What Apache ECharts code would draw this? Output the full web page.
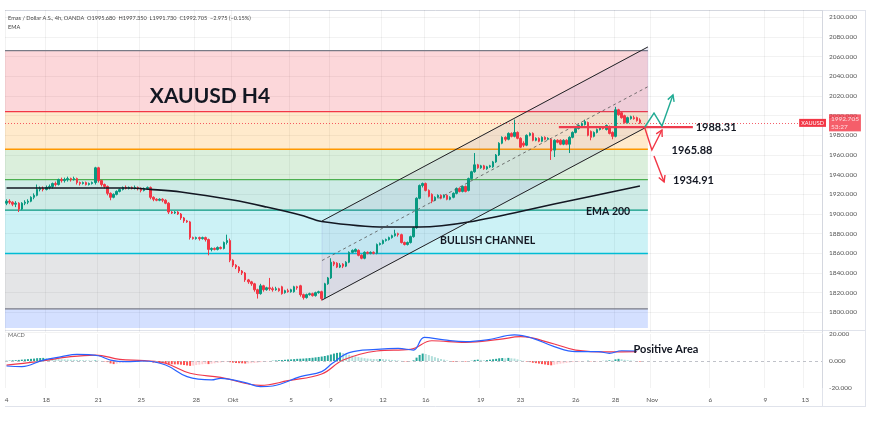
<!DOCTYPE html>
<html><head><meta charset="utf-8">
<script src="https://cdn.jsdelivr.net/npm/echarts@6/dist/echarts.min.js"></script>
<style>html,body{margin:0;padding:0;background:#fff;}#c{width:870px;height:422px;}</style>
</head><body><div id="c"></div>
<script>
// ---------- DATA ----------
const SLOTS = 267; // 4h bar slots shown on the time axis (incl. future space)
const xTickIdx  = [0, 13, 30, 44, 62, 74, 93, 106, 123, 137, 155, 168, 186, 199, 211, 230, 248, 261];
const xTickText = ['4','18','21','25','28','Okt','5','9','12','16','19','23','26','28','Nov','6','9','13'];

// [open, close, low, high]
const ohlc = [
[1911,1913,1909,1915],[1913,1912,1910,1915],[1912,1910,1908,1913],[1910,1911,1907,1913],[1911,1905,1902,1912],
[1905,1911,1904,1912],[1911,1912,1909,1914],[1912,1913,1910,1915],[1913,1917,1912,1918],[1917,1919,1915,1921],
[1919,1925,1918,1930],[1925,1926,1923,1928],[1926,1925,1923,1928],[1925,1927,1924,1929],[1927,1928,1925,1930],
[1928,1931,1926,1932],[1931,1930,1928,1933],[1930,1935,1929,1936],[1935,1934,1932,1937],[1934,1935,1932,1937],
[1935,1936,1933,1938],[1936,1935,1933,1937],[1935,1936,1934,1938],[1936,1932,1930,1937],[1932,1931,1929,1933],
[1931,1932,1930,1933],[1932,1930,1929,1933],[1930,1931,1929,1932],[1931,1932,1930,1933],[1932,1947,1930,1948],
[1947,1934,1932,1948],[1934,1930,1928,1935],[1930,1928,1926,1931],[1928,1921,1919,1929],[1921,1917,1914,1922],
[1917,1920,1916,1921],[1920,1923,1919,1924],[1923,1925,1922,1926],[1925,1927,1924,1928],[1927,1926,1925,1929],
[1926,1927,1925,1928],[1927,1926,1925,1928],[1926,1927,1925,1929],[1927,1926,1924,1928],[1926,1924,1922,1927],
[1924,1926,1923,1927],[1926,1927,1925,1928],[1927,1917,1915,1928],[1917,1915,1913,1918],[1915,1914,1913,1916],
[1914,1915,1913,1916],[1915,1914,1912,1916],[1914,1911,1910,1915],[1911,1902,1900,1912],[1902,1901,1900,1903],
[1901,1902,1900,1903],[1902,1900,1899,1903],[1900,1896,1894,1901],[1896,1893,1891,1897],[1893,1892,1891,1894],
[1892,1876,1874,1893],[1876,1875,1874,1877],[1875,1876,1874,1877],[1876,1875,1873,1877],[1875,1876,1874,1877],
[1876,1874,1872,1877],[1874,1864,1858,1875],[1864,1865,1862,1866],[1865,1864,1863,1866],[1864,1866,1863,1867],
[1866,1865,1864,1867],[1865,1871,1864,1872],[1871,1873,1869,1879],[1873,1853,1851,1875],[1853,1848,1846,1854],
[1848,1846,1844,1849],[1846,1842,1840,1847],[1842,1840,1838,1843],[1840,1833,1831,1841],[1833,1831,1829,1834],
[1831,1829,1827,1832],[1829,1823,1821,1830],[1823,1819,1814,1824],[1819,1827,1818,1829],[1827,1823,1821,1828],
[1823,1825,1822,1826],[1825,1824,1822,1835],[1824,1823,1821,1826],[1823,1824,1822,1826],[1824,1822,1821,1825],
[1826,1819,1818,1827],[1820,1822,1819,1823],[1822,1821,1820,1824],[1821,1823,1820,1824],[1821,1826,1820,1827],
[1826,1825,1823,1827],[1827,1818,1816,1828],[1818,1815,1813,1819],[1815,1818,1814,1819],[1818,1819,1817,1820],
[1819,1817,1816,1820],[1817,1820,1816,1821],[1820,1821,1819,1822],[1821,1814,1812,1822],[1815,1829,1814,1830],
[1829,1835,1828,1836],[1835,1851,1834,1855],[1851,1849,1847,1852],[1850,1846,1845,1851],[1846,1848,1845,1850],
[1849,1847,1845,1850],[1847,1851,1846,1852],[1851,1861,1850,1862],[1861,1863,1860,1864],[1862,1864,1861,1865],
[1863,1858,1857,1864],[1858,1855,1854,1859],[1855,1861,1854,1862],[1861,1860,1859,1862],[1860,1861,1859,1862],
[1861,1860,1859,1862],[1860,1869,1859,1870],[1869,1870,1868,1871],[1870,1873,1869,1874],[1873,1874,1872,1875],
[1874,1876,1873,1877],[1876,1878,1875,1879],[1878,1880,1877,1884],[1880,1879,1877,1881],[1879,1871,1870,1880],
[1871,1869,1868,1872],[1869,1871,1868,1872],[1871,1877,1870,1878],[1877,1886,1876,1887],[1886,1916,1885,1917],
[1916,1929,1915,1930],[1929,1931,1927,1932],[1931,1924,1923,1932],[1924,1918,1917,1925],[1920,1913,1911,1921],
[1914,1917,1913,1918],[1917,1919,1916,1920],[1919,1916,1915,1920],[1917,1919,1916,1920],[1919,1915,1914,1920],
[1915,1917,1914,1918],[1917,1921,1916,1922],[1921,1926,1920,1927],[1926,1923,1922,1927],[1923,1928,1922,1929],
[1928,1923,1922,1929],[1924,1936,1923,1937],[1936,1943,1935,1944],[1943,1950,1942,1962],[1950,1947,1946,1951],
[1947,1949,1946,1950],[1949,1946,1945,1950],[1946,1948,1945,1949],[1948,1949,1947,1950],[1948,1953,1947,1954],
[1953,1960,1952,1961],[1960,1972,1959,1973],[1972,1978,1971,1979],[1978,1976,1974,1979],[1976,1982,1975,1983],
[1982,1979,1978,1983],[1979,1983,1978,1996],[1983,1977,1976,1984],[1977,1968,1967,1978],[1972,1970,1968,1974],
[1970,1980,1969,1981],[1980,1982,1979,1983],[1982,1975,1974,1983],[1975,1977,1974,1978],[1977,1974,1973,1978],
[1974,1978,1973,1979],[1978,1976,1975,1979],[1976,1977,1975,1978],[1976,1964,1955,1977],[1965,1975,1958,1976],
[1975,1973,1972,1976],[1975,1971,1970,1976],[1971,1975,1970,1976],[1975,1971,1970,1976],[1971,1978,1962,1979],
[1978,1983,1977,1984],[1983,1987,1982,1988],[1987,1990,1986,1991],[1990,1992,1989,1993],[1991,1994,1990,1996],
[1993,1980,1979,1994],[1984,1978,1975,1985],[1979,1983,1978,1984],[1983,1986,1982,1987],[1986,1988,1985,1989],
[1988,1987,1986,1989],[1986,1990,1985,1991],[1989,1982,1981,1990],[1983,1979,1976,1984],[1979,2006,1978,2009],
[2006,2001,2000,2007],[2003,1998,1997,2004],[2000,1993,1992,2001],[1993,1998,1992,1999],[1997,1999,1996,2000],
[1998,1997,1996,2000],[1998,1995,1994,1999],[1995.68,1992.705,1991.73,1997.35]
];
const lastPrice = 1992.705;
const lastPriceText = '1992.705';
const countdownText = '53:27';

// EMA 200 read at bar index
const emaPts = [[0,1926.4],[40,1926.4],[47,1925.1],[57,1922.4],[74,1914.2],[85,1907.1],[96,1899.0],
                [103,1892.4],[124,1886.8],[135,1886.8],[151,1891.9],[179,1910.2],[207,1928.5]];

// Fibonacci retracement levels (top -> bottom) and band bottom
const fibLevels = [2066.1, 2004.16, 1965.88, 1934.91, 1903.94, 1859.84, 1803.61];
const fibBottom = 1784;
const fibStartIdx = -0.5, fibEndIdx = 209.6;
const fibLineColors = ['#787b86','#f23645','#ff9800','#4caf50','#089981','#00bcd4','#787b86'];
const fibFillColors = ['rgba(242,54,69,0.2)','rgba(255,152,0,0.2)','rgba(76,175,80,0.2)','rgba(8,153,129,0.2)',
                       'rgba(0,188,212,0.2)','rgba(120,123,134,0.2)','rgba(41,98,255,0.2)'];

// Parallel channel (bar index, price)
const channelUpper = [[103.1,1892.9],[209.6,2069.9]];
const channelLower = [[103.1,1812.5],[209.6,1989.2]];
const channelMid   = [[103.1,1852.7],[209.6,2029.5]];

// key level & scenario arrows
const keyLevel = 1988.31;
const keyLevelSpan = [180.5, 224.3];
const greenPath = [[208.6,1988.5],[211.6,2002.7],[214.2,1989.5],[217.8,2021.1]];
const redPath   = [[208.6,1987.5],[210.9,1965.1],[214.2,1985.5]];
const redDown   = [[211.6,1959.0],[214.9,1932.6]];

// annotation texts (bar index, price)
const annoText  = ['XAUUSD H4','BULLISH CHANNEL','EMA 200','1988.31','1965.88','1934.91'];
const annoIdx   = [66.5, 157.2, 196.6, 231.9, 224.0, 224.5];
const annoPrice = [2020.0, 1872.5, 1902.0, 1987.8, 1965.1, 1933.8];
const annoSize  = [21, 10.5, 10.5, 11, 11, 11];

// MACD pane
const macdHist = [
0.2,0.3,0.5,0.6,0.8,1.0,1.2,1.4,1.6,1.8,
2.1,2.2,2.3,2.2,2.0,1.8,1.6,1.4,1.3,1.2,
1.1,1.0,0.9,0.8,0.7,0.6,0.5,0.4,0.3,0.4,
0.3,0.1,-0.3,-0.8,-1.8,-2.3,-2.0,-1.6,-1.2,-0.8,
-0.5,-0.3,-0.1,0.1,0.2,0.1,-0.2,-0.6,-1.2,-1.5,
-1.6,-1.7,-1.8,-2.2,-2.4,-2.5,-2.5,-2.7,-3.0,-3.3,
-3.6,-3.4,-3.0,-2.7,-2.4,-2.2,-2.3,-2.0,-1.7,-1.4,
-1.1,-0.8,-0.5,-0.9,-1.2,-1.5,-1.6,-1.7,-1.9,-1.8,
-1.6,-1.5,-1.3,-0.9,-0.6,-0.4,-0.2,0.2,0.4,0.6,
0.7,0.9,1.1,1.2,1.4,1.6,1.7,1.8,2.0,2.2,
2.4,2.7,3.0,3.3,3.7,4.2,4.8,5.5,6.0,6.3,5.8,5.2,4.6,4.0,3.4,2.9,2.5,2.1,1.8,1.6,1.5,1.4,
1.5,1.4,1.2,1.0,0.8,0.6,0.4,
0.1,-0.3,-0.5,-0.3,0.5,
2.5,4.5,5.5,5.2,
4.4,3.6,2.8,2.1,1.5,1.0,
0.4,-0.2,-0.5,-0.6,-0.5,-0.3,-0.4,-0.2,0.2,
0.8,1.0,0.8,0.6,0.7,
1.0,1.3,1.6,2.0,2.2,2.0,2.3,2.0,1.8,
1.2,0.6,0.2,
-0.4,-0.8,-1.3,-1.6,-1.9,-2.3,-2.6,-3.0,-3.2,
-2.8,-2.4,-2.0,-1.7,-1.4,-1.1,-0.8,-0.6,-0.5,
-0.3,-0.1,0.2,-0.2,-0.4,-0.3,-0.2,0.1,0.2,
0.5,0.4,1.2,1.6,1.3,
0.9,0.6,0.4,0.2,-0.2,-0.4
];
const macdLine = [[0,-3.7],[5,-4.2],[12,0.7],[18,3.2],[23,4.9],[30,3.9],[34,0.7],[39,-0.5],[45,0],[52,-3],
  [59,-11.6],[67,-14],[70,-12.8],[78,-16],[83,-19],[87,-18.5],[96,-11.6],[103,-7.9],[106.5,-1.7],[112,6.2],
  [121,8.6],[128,9.4],[133,8.1],[136.5,17.5],[143,15.6],[150,14.3],[157,15.6],[166,19.3],[172,16.8],
  [179,10.6],[186,6.9],[193.5,6.9],[197,5.7],[201,7.6],[206,7.4]];
const signalLine = [[0,-3],[10,-0.5],[21,3.2],[29,4.4],[37,1.2],[45,0.3],[52,-1.7],[60,-9.1],[70,-12.1],
  [83,-18],[92,-14.6],[103,-9.6],[110,0.7],[121,7.4],[132,8.6],[139,15],[150,13.8],[161,16],[168,18],
  [179,12.6],[186,8.1],[197,6.7],[206,6.9]];
const macdNote = {text:'Positive Area', idx:215.5, val:8.9};

// ---------- BUILD ----------
const categories = [];
for (let i = 0; i < SLOTS; i++) {
  const k = xTickIdx.indexOf(i);
  categories.push(k >= 0 ? xTickText[k] : '');
}
const tickSet = new Set(xTickIdx);
const FONT = 'Lato, "Noto Sans", sans-serif';
const bands = fibLevels.map((t, i) => [t, i + 1 < fibLevels.length ? fibLevels[i + 1] : fibBottom, i]);

const histData = macdHist.map((v, i) => {
  const prev = i > 0 ? macdHist[i - 1] : 0;
  let c;
  if (v >= 0) c = v >= prev ? '#26a69a' : '#b2dfdb';
  else c = v <= prev ? '#ff5252' : '#ffcdd2';
  return {value: v, itemStyle: {color: c}};
});

function arrowRender(path, color) {
  return function (params, api) {
    const pts = path.map(p => api.coord(p));
    const a = pts[pts.length - 2], b = pts[pts.length - 1];
    const ang = Math.atan2(b[1] - a[1], b[0] - a[0]);
    const L = 7, w = 0.5;
    const h1 = [b[0] - L * Math.cos(ang - w), b[1] - L * Math.sin(ang - w)];
    const h2 = [b[0] - L * Math.cos(ang + w), b[1] - L * Math.sin(ang + w)];
    return {type: 'group', children: [
      {type: 'polyline', shape: {points: pts}, style: {stroke: color, lineWidth: 1.4, fill: null}},
      {type: 'polyline', shape: {points: [h1, b, h2]}, style: {stroke: color, lineWidth: 1.4, fill: null}}
    ]};
  };
}

const chart = echarts.init(document.getElementById('c'));
const frame = '#e0e3eb';
const option = {
  animation: false,
  backgroundColor: '#ffffff',
  textStyle: {fontFamily: FONT},
  grid: [
    {left: 5, right: 48, top: 10, bottom: 90},
    {left: 5, right: 48, top: 334, bottom: 34}
  ],
  xAxis: [
    {type: 'category', gridIndex: 0, data: categories, boundaryGap: true,
     axisLine: {show: false}, axisTick: {show: false}, axisLabel: {show: false},
     splitLine: {show: true, interval: (i) => tickSet.has(i), lineStyle: {color: 'rgba(0,0,0,0.05)'}}},
    {type: 'value', gridIndex: 0, min: -0.5, max: SLOTS - 0.5, show: false},
    {type: 'category', gridIndex: 1, data: categories, boundaryGap: true,
     axisLine: {show: false}, axisTick: {show: false},
     axisLabel: {show: true, interval: (i) => tickSet.has(i), fontSize: 6.5, color: '#555', margin: 8, fontFamily: FONT},
     splitLine: {show: true, interval: (i) => tickSet.has(i), lineStyle: {color: 'rgba(0,0,0,0.05)'}}},
    {type: 'value', gridIndex: 1, min: -0.5, max: SLOTS - 0.5, show: false}
  ],
  yAxis: [
    {type: 'value', gridIndex: 0, position: 'right', min: 1780, max: 2107.5, interval: 20,
     axisLine: {show: false}, axisTick: {show: false},
     axisLabel: {fontSize: 6.5, color: '#555', margin: 7, fontFamily: FONT,
       formatter: v => (v % 20 === 0 && v > 1780 && v <= 2100) ? v.toFixed(3) : ''},
     splitLine: {show: true, lineStyle: {color: 'rgba(0,0,0,0.05)'}}},
    {type: 'value', gridIndex: 1, position: 'right', min: -20, max: 20, interval: 20,
     axisLine: {show: false}, axisTick: {show: false},
     axisLabel: {fontSize: 6.5, color: '#555', margin: 7, fontFamily: FONT, formatter: v => v.toFixed(3)},
     splitLine: {show: false}}
  ],
  graphic: [
    {type: 'line', shape: {x1: 5, y1: 10.5, x2: 866, y2: 10.5}, style: {stroke: frame, lineWidth: 1}, silent: true},
    {type: 'line', shape: {x1: 5, y1: 330.5, x2: 866, y2: 330.5}, style: {stroke: frame, lineWidth: 1}, silent: true},
    {type: 'line', shape: {x1: 5, y1: 406.5, x2: 866, y2: 406.5}, style: {stroke: frame, lineWidth: 1}, silent: true},
    {type: 'line', shape: {x1: 822.5, y1: 10, x2: 822.5, y2: 407}, style: {stroke: frame, lineWidth: 1}, silent: true},
    {type: 'line', shape: {x1: 865.5, y1: 10, x2: 865.5, y2: 407}, style: {stroke: frame, lineWidth: 1}, silent: true},
    {type: 'text', left: 8, top: 15, style: {text: 'Emas / Dollar A.S., 4h, OANDA  O1995.680  H1997.350  L1991.730  C1992.705  \u22122.975 (\u22120.15%)', fill: '#444', font: '5.6px ' + FONT}},
    {type: 'text', left: 8, top: 24, style: {text: 'EMA', fill: '#444', font: '5.6px ' + FONT}},
    {type: 'text', left: 8, top: 332, style: {text: 'MACD', fill: '#666', font: '5.6px ' + FONT}}
  ],
  series: [
    // Fibonacci bands
    {type: 'custom', xAxisIndex: 1, yAxisIndex: 0, z: 1, silent: true,
     data: bands.map(b => [0, b[0], b[1], b[2]]),
     renderItem: (params, api) => {
       const b = bands[params.dataIndex];
       const p0 = api.coord([fibStartIdx, b[0]]), p1 = api.coord([fibEndIdx, b[1]]);
       return {type: 'rect', shape: {x: p0[0], y: p0[1], width: p1[0] - p0[0], height: p1[1] - p0[1]},
               style: {fill: fibFillColors[b[2]]}};
     }},
    // Fibonacci level lines
    {type: 'custom', xAxisIndex: 1, yAxisIndex: 0, z: 2, silent: true,
     data: fibLevels.map((v, i) => [0, v, i]),
     renderItem: (params, api) => {
       const i = params.dataIndex;
       const p0 = api.coord([fibStartIdx, fibLevels[i]]), p1 = api.coord([fibEndIdx, fibLevels[i]]);
       return {type: 'line', shape: {x1: p0[0], y1: p0[1], x2: p1[0], y2: p1[1]},
               style: {stroke: fibLineColors[i], lineWidth: 1.3}};
     }},
    // Channel fill
    {type: 'custom', xAxisIndex: 1, yAxisIndex: 0, z: 3, silent: true, data: [[0, 0]],
     renderItem: (params, api) => {
       const pts = [channelUpper[0], channelUpper[1], channelLower[1], channelLower[0]].map(p => api.coord(p));
       return {type: 'polygon', shape: {points: pts}, style: {fill: 'rgba(110,110,200,0.09)', stroke: 'rgba(110,110,200,0.25)', lineWidth: 0.6}};
     }},
    // Candles
    {type: 'candlestick', xAxisIndex: 0, yAxisIndex: 0, z: 5, data: ohlc, barWidth: 2,
     itemStyle: {color: '#089981', color0: '#f23645', borderColor: '#089981', borderColor0: '#f23645', borderWidth: 1},
     markLine: {silent: true, symbol: 'none', animation: false,
       lineStyle: {color: '#f23645', type: [1, 2], width: 1, opacity: 0.8},
       label: {show: true, position: 'end', distance: 7, formatter: lastPriceText + '\n' + countdownText,
               backgroundColor: '#f23645', color: '#fff', fontSize: 6.5, lineHeight: 7.5, padding: [1, 2, 1, 2], fontFamily: FONT},
       data: [{yAxis: lastPrice}]}},
    // EMA 200
    {type: 'line', xAxisIndex: 1, yAxisIndex: 0, z: 6, data: emaPts, smooth: 0.35, showSymbol: false,
     lineStyle: {color: '#131722', width: 1.6}},
    // Channel lines
    {type: 'line', xAxisIndex: 1, yAxisIndex: 0, z: 6, data: channelUpper, showSymbol: false, lineStyle: {color: '#222', width: 1}},
    {type: 'line', xAxisIndex: 1, yAxisIndex: 0, z: 6, data: channelLower, showSymbol: false, lineStyle: {color: '#222', width: 1}},
    {type: 'line', xAxisIndex: 1, yAxisIndex: 0, z: 6, data: channelMid, showSymbol: false, lineStyle: {color: '#555', width: 0.8, type: [3, 3]}},
    // key level line
    {type: 'line', xAxisIndex: 1, yAxisIndex: 0, z: 7, data: [[keyLevelSpan[0], keyLevel], [keyLevelSpan[1], keyLevel]],
     showSymbol: false, lineStyle: {color: '#ee3b4d', width: 2.2}},
    // scenario arrows
    {type: 'custom', xAxisIndex: 1, yAxisIndex: 0, z: 8, silent: true, data: [[0, 0]], renderItem: arrowRender(greenPath, '#22ab94')},
    {type: 'custom', xAxisIndex: 1, yAxisIndex: 0, z: 8, silent: true, data: [[0, 0]], renderItem: arrowRender(redPath, '#f23645')},
    {type: 'custom', xAxisIndex: 1, yAxisIndex: 0, z: 8, silent: true, data: [[0, 0]], renderItem: arrowRender(redDown, '#f23645')},
    // symbol tag on price line
    {type: 'custom', xAxisIndex: 1, yAxisIndex: 0, z: 9, silent: true, data: [[0, 0]],
     renderItem: (params, api) => {
       const p = api.coord([SLOTS - 0.5, lastPrice]);
       return {type: 'text', x: p[0] + 4, y: p[1], style: {text: 'XAUUSD', fill: '#fff', backgroundColor: '#f23645',
               padding: [1, 2, 1, 2], font: '5.6px ' + FONT, align: 'right', verticalAlign: 'middle'}};
     }},
    // annotation texts
    {type: 'custom', xAxisIndex: 1, yAxisIndex: 0, z: 10, silent: true, data: annoText.map((t, i) => [annoIdx[i], annoPrice[i]]),
     renderItem: (params, api) => {
       const i = params.dataIndex;
       const p = api.coord([annoIdx[i], annoPrice[i]]);
       return {type: 'text', x: p[0], y: p[1], style: {text: annoText[i], fill: '#131722',
               font: 'bold ' + annoSize[i] + 'px ' + FONT, align: 'center', verticalAlign: 'middle'}};
     }},
    // MACD histogram
    {type: 'bar', xAxisIndex: 2, yAxisIndex: 1, data: histData, barWidth: 2, z: 3,
     markLine: {silent: true, symbol: 'none', lineStyle: {color: '#b0b3bb', type: [3, 3], width: 0.8},
                label: {show: false}, data: [{yAxis: 0}]}},
    {type: 'line', xAxisIndex: 3, yAxisIndex: 1, data: macdLine, smooth: 0.4, showSymbol: false, z: 5,
     lineStyle: {color: '#2962ff', width: 1.2}},
    {type: 'line', xAxisIndex: 3, yAxisIndex: 1, data: signalLine, smooth: 0.4, showSymbol: false, z: 4,
     lineStyle: {color: '#f0384b', width: 1.2}},
    {type: 'custom', xAxisIndex: 3, yAxisIndex: 1, z: 10, silent: true, data: [[0, 0]],
     renderItem: (params, api) => {
       const p = api.coord([macdNote.idx, macdNote.val]);
       return {type: 'text', x: p[0], y: p[1], style: {text: macdNote.text, fill: '#131722',
               font: 'bold 11px ' + FONT, align: 'center', verticalAlign: 'middle'}};
     }}
  ]
};
chart.setOption(option);
</script>
</body></html>
